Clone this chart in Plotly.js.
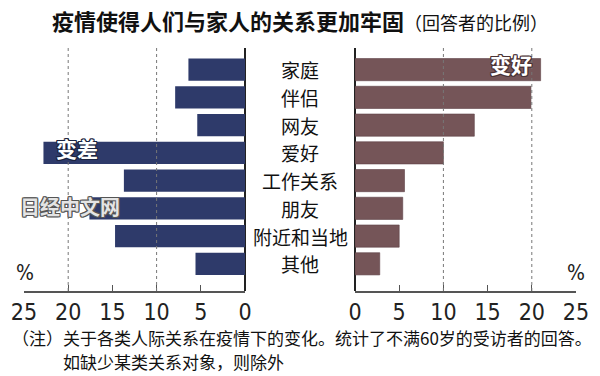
<!DOCTYPE html>
<html>
<head>
<meta charset="utf-8">
<script src="https://cdn.plot.ly/plotly-3.0.1.min.js"></script>
<style>html,body{margin:0;padding:0;background:#fff;}#chart{width:600px;height:376px;}</style>
</head>
<body>
<div id="chart"></div>
<script>
// ---- data ----
const categories = ['家庭', '伴侣', '网友', '爱好', '工作关系', '朋友', '附近和当地', '其他'];
const worse = [6.4, 7.9, 5.4, 22.8, 13.7, 17.6, 14.7, 5.6];   // 变差 (%)
const better = [21.0, 19.9, 13.5, 10.0, 5.6, 5.4, 5.0, 2.8];  // 变好 (%)
const tickVals = [0, 5, 10, 15, 20, 25];
const tickText = ['0', '5', '10', '15', '20', '25'];
const gridVals = [10, 20];
const titleMain = '疫情使得人们与家人的关系更加牢固';
const titleSub = '（回答者的比例）';
const worseLabel = '变差';
const betterLabel = '变好';
const note1 = '（注）关于各类人际关系在疫情下的变化。统计了不满60岁的受访者的回答。';
const note2 = '如缺少某类关系对象，则除外';
const watermark = '日经中文网';

const CJK = '"Noto Sans CJK SC", "Noto Sans", sans-serif';
const NARROW = '"Liberation Sans Narrow", "DejaVu Sans Condensed", "Arial Narrow", "Liberation Sans", sans-serif';
const outline = c => `-1px -1px 0 ${c}, 1px -1px 0 ${c}, -1px 1px 0 ${c}, 1px 1px 0 ${c}, 0 1px 0 ${c}, 0 -1px 0 ${c}, 1px 0 0 ${c}, -1px 0 0 ${c}`;

const traces = [
  {type: 'bar', orientation: 'h', y: categories, x: worse, xaxis: 'x', yaxis: 'y',
   marker: {color: '#2e3a6a', line: {width: 0}}, width: 0.8, hoverinfo: 'skip'},
  {type: 'bar', orientation: 'h', y: categories, x: better, xaxis: 'x2', yaxis: 'y',
   marker: {color: '#755558', line: {color: '#5e4246', width: 0.6}}, width: 0.8, hoverinfo: 'skip'}
];

const xCommon = {
  tickvals: tickVals, ticktext: tickText, ticks: 'inside', ticklen: 6, tickwidth: 1.2, tickcolor: '#555',
  showline: true, linecolor: '#555', linewidth: 1.5, showgrid: false,
  zeroline: true, zerolinecolor: '#222', zerolinewidth: 1.5,
  tickfont: {family: NARROW, size: 23, color: '#222'}, anchor: 'y', fixedrange: true
};

const shapes = [];
['x', 'x2'].forEach(ax => gridVals.forEach(v => shapes.push({
  type: 'line', xref: ax, x0: v, x1: v, yref: 'paper', y0: 0, y1: 1.005,
  line: {color: '#777', width: 1, dash: 'dot'}, layer: 'above'
})));

const annotations = [];
categories.forEach(c => annotations.push({
  xref: 'paper', x: 0.5, yref: 'y', y: c, text: c, showarrow: false,
  xanchor: 'center', yanchor: 'middle', font: {family: CJK, size: 19, color: '#111'}
}));
annotations.push(
  {xref: 'x', x: 19.0, yref: 'y', y: categories[3], yshift: 5, text: '<b>' + worseLabel + '</b>', showarrow: false,
   xanchor: 'center', yanchor: 'middle', font: {family: CJK, size: 21, color: '#fff', shadow: outline('#1c2340')}},
  {xref: 'x2', x: 17.6, yref: 'y', y: categories[0], yshift: 6, text: '<b>' + betterLabel + '</b>', showarrow: false,
   xanchor: 'center', yanchor: 'middle', font: {family: CJK, size: 21, color: '#fff', shadow: outline('#4a3235')}},
  {xref: 'paper', x: 70 / 600, yref: 'paper', y: 0.3457, text: '<b>' + watermark + '</b>', showarrow: false,
   xanchor: 'center', yanchor: 'middle', font: {family: CJK, size: 20, color: '#e4e4e4', shadow: outline('#555')}},
  {xref: 'paper', x: 25 / 600, yref: 'paper', y: 0.074, text: '%', showarrow: false,
   xanchor: 'center', yanchor: 'middle', font: {family: NARROW, size: 21, color: '#222'}},
  {xref: 'paper', x: 576 / 600, yref: 'paper', y: 0.074, text: '%', showarrow: false,
   xanchor: 'center', yanchor: 'middle', font: {family: NARROW, size: 21, color: '#222'}},
  {xref: 'paper', x: 10 / 600, yref: 'paper', y: (291 - 337) / 243, text: note1, showarrow: false,
   xanchor: 'left', yanchor: 'middle', font: {family: CJK, size: 17, color: '#111'}},
  {xref: 'paper', x: 61 / 600, yref: 'paper', y: (291 - 361) / 243, text: note2, showarrow: false,
   xanchor: 'left', yanchor: 'middle', font: {family: CJK, size: 17, color: '#111'}}
);

const layout = {
  width: 600, height: 376, margin: {l: 0, r: 0, t: 48, b: 85},
  paper_bgcolor: '#fff', plot_bgcolor: 'rgba(0,0,0,0)', showlegend: false, bargap: 0.2,
  title: {text: '<b>' + titleMain + '</b><span style="font-size:18px;font-weight:normal">' + titleSub + '</span>',
          x: 0.5, xanchor: 'center', xref: 'paper', y: 1 - 22 / 376, yanchor: 'middle', yref: 'container',
          font: {family: CJK, size: 22, color: '#111'}},
  xaxis: Object.assign({}, xCommon, {domain: [24 / 600, 245 / 600], range: [25, 0], autorange: false}),
  xaxis2: Object.assign({}, xCommon, {domain: [355 / 600, 576 / 600], range: [0, 25], autorange: false}),
  yaxis: {type: 'category', categoryarray: categories, categoryorder: 'array', range: [7.98, -0.78], autorange: false,
          showticklabels: false, showgrid: false, zeroline: false, showline: false, ticks: '', fixedrange: true},
  shapes: shapes, annotations: annotations
};

Plotly.newPlot('chart', traces, layout, {displayModeBar: false, staticPlot: true});
</script>
</body>
</html>
